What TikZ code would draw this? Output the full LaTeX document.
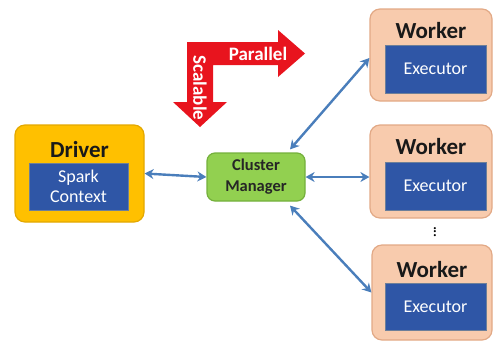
\documentclass[tikz,border=0pt]{standalone}
\usepackage{fontspec}
\setmainfont{Carlito}
\usetikzlibrary{arrows.meta,calc}
\definecolor{drvfill}{HTML}{FFC000}
\definecolor{drvline}{HTML}{E3A800}
\definecolor{inblue}{HTML}{2F56A6}
\definecolor{inline}{HTML}{6D7F99}
\definecolor{cmfill}{HTML}{92D050}
\definecolor{cmline}{HTML}{74B03C}
\definecolor{wkfill}{HTML}{F8CBAD}
\definecolor{wkline}{HTML}{E2A986}
\definecolor{arblue}{HTML}{4A7EBB}
\definecolor{redarr}{HTML}{E8141E}
\tikzset{
  drvbox/.style={draw=drvline, fill=drvfill, rounded corners=10pt, line width=1.2pt},
  wkbox/.style={draw=wkline, fill=wkfill, rounded corners=10pt, line width=1.2pt},
  cmbox/.style={draw=cmline, fill=cmfill, rounded corners=8pt, line width=1.2pt,
     align=center, font=\fontsize{16.5}{21}\selectfont\bfseries, text=black!85},
  innerbox/.style={draw=inline, fill=inblue, line width=0.8pt, text=white,
     align=center, font=\fontsize{18}{20.5}\selectfont},
  title/.style={font=\fontsize{23}{24}\selectfont\bfseries, text=black!90},
  link/.style={draw=arblue, line width=2.4pt, {Stealth[length=9pt,width=10pt]}-{Stealth[length=9pt,width=10pt]}}
}
\begin{document}
\begin{tikzpicture}[x=1pt,y=-1pt]
\useasboundingbox (0,0) rectangle (497,341);
% Driver
\node[drvbox, minimum width=129pt, minimum height=97pt] (drv) at (79.5,173.5) {};
\node[title] (drvt) at (79.5,150) {Driver};
\node[innerbox, minimum width=99pt, minimum height=47pt, inner sep=1pt] (sc) at (78.5,186.5) {Spark\\Context};
% Cluster manager
\node[cmbox, minimum width=98pt, minimum height=48pt, inner sep=1pt] (cm) at (256,177) {Cluster\\Manager};
% Workers
\node[wkbox, minimum width=122pt, minimum height=92pt] (w1) at (431,55) {};
\node[title] (w1t) at (431,31) {Worker};
\node[innerbox, minimum width=101pt, minimum height=48pt] (e1) at (435.5,69) {Executor};
\node[wkbox, minimum width=122pt, minimum height=93pt] (w2) at (431,171.5) {};
\node[title] (w2t) at (431,147) {Worker};
\node[innerbox, minimum width=101pt, minimum height=48pt] (e2) at (435.5,186) {Executor};
\node[wkbox, minimum width=120pt, minimum height=95pt] (w3) at (432,292.5) {};
\node[title] (w3t) at (432,270) {Worker};
\node[innerbox, minimum width=101pt, minimum height=47pt] (e3) at (435.5,306.5) {Executor};
% dots
\node[font=\fontsize{14}{14}\selectfont\bfseries] (dots) at (435,232) {\rotatebox{90}{...}};
% connectors
\coordinate (cmur) at ($(cm.north)+(34,-3)$);
\coordinate (cmlr) at ($(cm.south)+(34,4)$);
\coordinate (w1l) at ($(w1.west)+(0,3)$);
\coordinate (w3l) at ($(w3.west)+(0,0)$);
\draw[link] (drv.east) -- (cm.west);
\draw[link] (cm.east) -- (w2.west |- cm.east);
\draw[link] (cmur) -- (w1l);
\draw[link] (cmlr) -- (w3l);
% red L arrow
\fill[redarr] (187,42) -- (278,42) -- (278,30) -- (305,53.5) -- (278,77) -- (278,65)
  -- (213,65) -- (213,102) -- (227,102) -- (200,127) -- (173,102) -- (187,102) -- cycle;
\node[text=white, font=\fontsize{19}{19}\selectfont\bfseries] (par) at (258,54) {Parallel};
\node[text=white, font=\fontsize{19}{19}\selectfont\bfseries, rotate=-90] (scl) at (200,88) {Scalable};
\end{tikzpicture}
\end{document}
